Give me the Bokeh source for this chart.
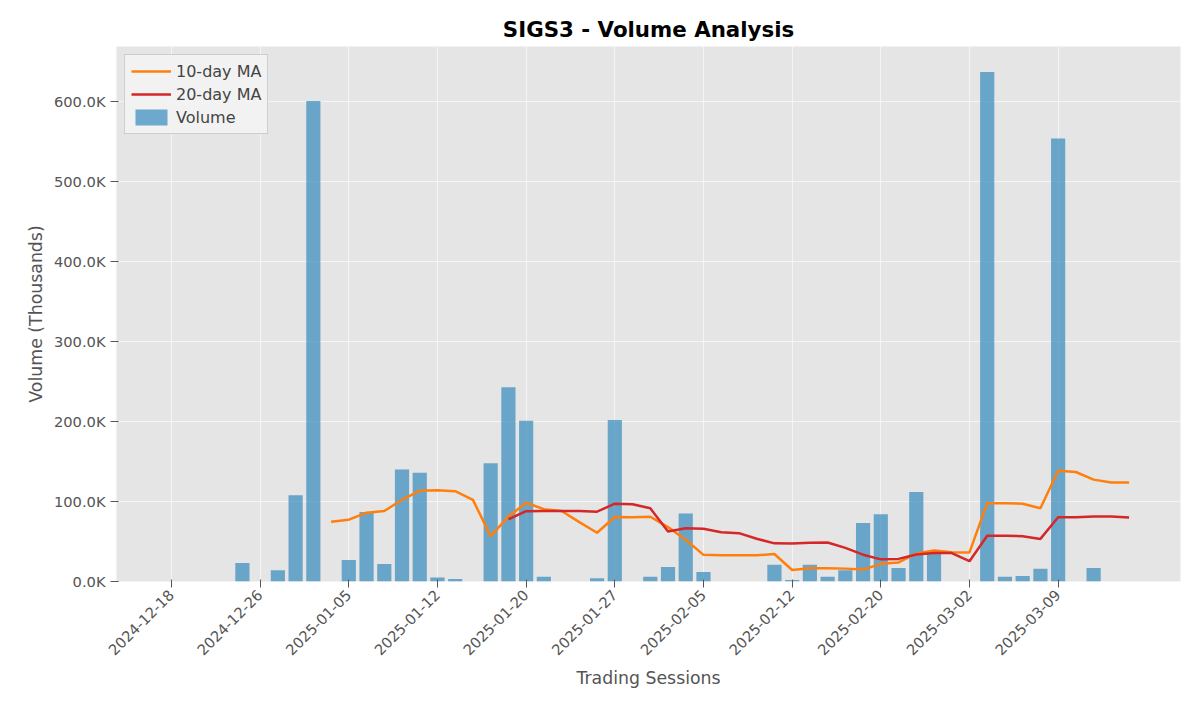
import numpy as np
import pandas as pd
from bokeh.plotting import figure
from bokeh.models import ColumnDataSource, FixedTicker, CustomJSTickFormatter, Legend, LegendItem, Range1d
from bokeh.embed import file_html
from bokeh.resources import INLINE

# volume per trading session (thousands)
volume_k = [0, 0, 0, 0, 23, 0, 14, 108, 601, 0,
            27, 87, 22, 140, 136, 5, 3, 0, 148, 243,
            201, 6, 0, 0, 4, 202, 0, 6, 18, 85,
            12, 0, 0, 0, 21, 2, 21, 6, 14, 73,
            84, 17, 112, 37, 0, 0, 637, 6, 7, 16,
            554, 0, 17, 0, 0]
tick_labels = ["2024-12-18", "2024-12-26", "2025-01-05", "2025-01-12", "2025-01-20",
               "2025-01-27", "2025-02-05", "2025-02-12", "2025-02-20", "2025-03-02", "2025-03-09"]

vol = pd.Series(volume_k) * 1000
idx = np.arange(len(vol))
ma10 = vol.rolling(10).mean()
ma20 = vol.rolling(20).mean()

src = ColumnDataSource(dict(x=idx, v=vol, ma10=ma10, ma20=ma20))

p = figure(width=1184, height=704, output_backend="svg", toolbar_location=None,
           x_range=Range1d(-3.1, 56.9), y_range=Range1d(0, 669000),
           min_border_left=116, min_border_right=4, min_border_top=46, min_border_bottom=123)
p.background_fill_color = "#E5E5E5"
p.outline_line_color = None
p.title.text = "SIGS3 - Volume Analysis"
p.title.align = "center"
p.title.text_font = "DejaVu Sans"
p.title.text_font_size = "16pt"
p.title.text_font_style = "bold"
p.title.text_color = "black"

bars = p.vbar(x="x", top="v", width=0.8, source=src, fill_color="#348ABD", fill_alpha=0.7, line_color=None)
l1 = p.line("x", "ma10", source=src, color="#FF7F0E", line_width=2.5)
l2 = p.line("x", "ma20", source=src, color="#D62728", line_width=2.5)

p.xaxis.ticker = FixedTicker(ticks=list(range(0, 55, 5)))
p.xaxis.major_label_overrides = {i * 5: t for i, t in enumerate(tick_labels)}
p.xaxis.major_label_orientation = np.pi / 4
p.yaxis.ticker = FixedTicker(ticks=list(range(0, 700000, 100000)))
p.yaxis.formatter = CustomJSTickFormatter(code="return (tick/1000).toFixed(1) + 'K';")
p.xaxis.axis_label = "Trading Sessions"
p.yaxis.axis_label = "Volume (Thousands)"
for ax in (p.xaxis, p.yaxis):
    ax.axis_line_color = None
    ax.major_tick_line_color = "#555555"
    ax.minor_tick_line_color = None
    ax.major_label_text_font = "DejaVu Sans"
    ax.major_label_text_font_size = "11pt"
    ax.major_label_text_color = "#555555"
    ax.axis_label_text_font = "DejaVu Sans"
    ax.axis_label_text_font_size = "13pt"
    ax.axis_label_text_font_style = "normal"
    ax.axis_label_text_color = "#555555"
p.grid.grid_line_color = "white"
p.grid.grid_line_alpha = 0.6

legend = Legend(items=[LegendItem(label="10-day MA", renderers=[l1]),
                       LegendItem(label="20-day MA", renderers=[l2]),
                       LegendItem(label="Volume", renderers=[bars])],
                location="top_left", label_text_font="DejaVu Sans", label_text_font_size="12pt",
                background_fill_color="#F2F2F2", border_line_color="#AAAAAA",
                margin=8, padding=6, spacing=3, glyph_width=40)
p.add_layout(legend)

open("out.html", "w").write(file_html(p, INLINE))
